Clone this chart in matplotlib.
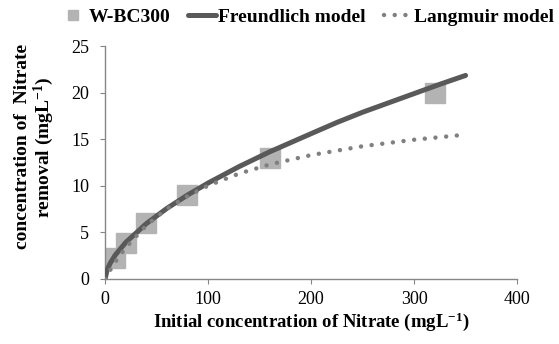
import matplotlib
matplotlib.use("Agg")
import matplotlib.pyplot as plt

plt.rcParams['font.family'] = ['Liberation Serif', 'DejaVu Serif']
plt.rcParams['mathtext.fontset'] = 'custom'
plt.rcParams['mathtext.rm'] = 'Liberation Serif'
plt.rcParams['mathtext.bf'] = 'Liberation Serif:bold'

# measured points
x_meas = [10, 20, 40, 80, 160, 320]
y_meas = [2.3, 3.9, 6.0, 9.0, 13.0, 20.0]

# Freundlich model curve
x_fr = [0, 2, 5, 10, 20, 40, 60, 80, 100, 130, 160, 200, 225, 250, 275, 300, 325, 350]
y_fr = [0, 0.99, 1.71, 2.59, 3.92, 5.94, 7.58, 9.01, 10.3, 12.06, 13.66, 15.6, 16.8, 17.9, 18.9, 19.9, 20.9, 21.85]

# Langmuir model curve
x_la = [0, 5, 10, 20, 40, 60, 80, 100, 130, 160, 200, 250, 300, 346]
y_la = [0, 0.96, 1.84, 3.36, 5.75, 7.54, 8.9, 10.02, 11.31, 12.3, 13.3, 14.25, 14.95, 15.45]

fig = plt.figure(figsize=(5.59, 3.44), dpi=100)
ax = fig.add_axes([0.188, 0.189, 0.737, 0.677])

ax.plot(x_meas, y_meas, 's', color='#b3b3b3', markersize=14, label='W-BC300', zorder=2)
ax.plot(x_fr, y_fr, '-', color='#595959', linewidth=3.6, solid_capstyle='round',
        label='Freundlich model', zorder=3)
ax.plot(x_la, y_la, color='#808080', linewidth=3.2, linestyle=(0, (0.01, 2.4)),
        dash_capstyle='round', label='Langmuir model', zorder=3)

ax.set_xlim(0, 400)
ax.set_ylim(0, 25)
ax.set_xticks([0, 100, 200, 300, 400])
ax.set_yticks([0, 5, 10, 15, 20, 25])
for s in ['top', 'right']:
    ax.spines[s].set_visible(False)
for s in ['left', 'bottom']:
    ax.spines[s].set_color('#868686')
    ax.spines[s].set_linewidth(1.0)
ax.tick_params(direction='out', length=3.5, color='#868686', labelsize=13)
ax.tick_params(axis='x', pad=5)
ax.tick_params(axis='y', pad=8)

ax.set_xlabel('Initial concentration of Nitrate (mgL$\\mathbf{^{-1}}$)',
              fontsize=13.5, fontweight='bold', labelpad=2)
ax.set_ylabel('concentration of  Nitrate\nremoval (mgL$\\mathbf{^{-1}}$)',
              fontsize=14, fontweight='bold', linespacing=1.0)
ax.yaxis.set_label_coords(-0.12, 0.567)

leg = fig.legend(loc='center', bbox_to_anchor=(0.548, 0.951), ncol=3, frameon=False,
                 prop={'weight': 'bold', 'size': 14}, handlelength=1.4,
                 handletextpad=0.15, columnspacing=0.9, markerscale=0.5)

fig.savefig('out.png', dpi=100)
